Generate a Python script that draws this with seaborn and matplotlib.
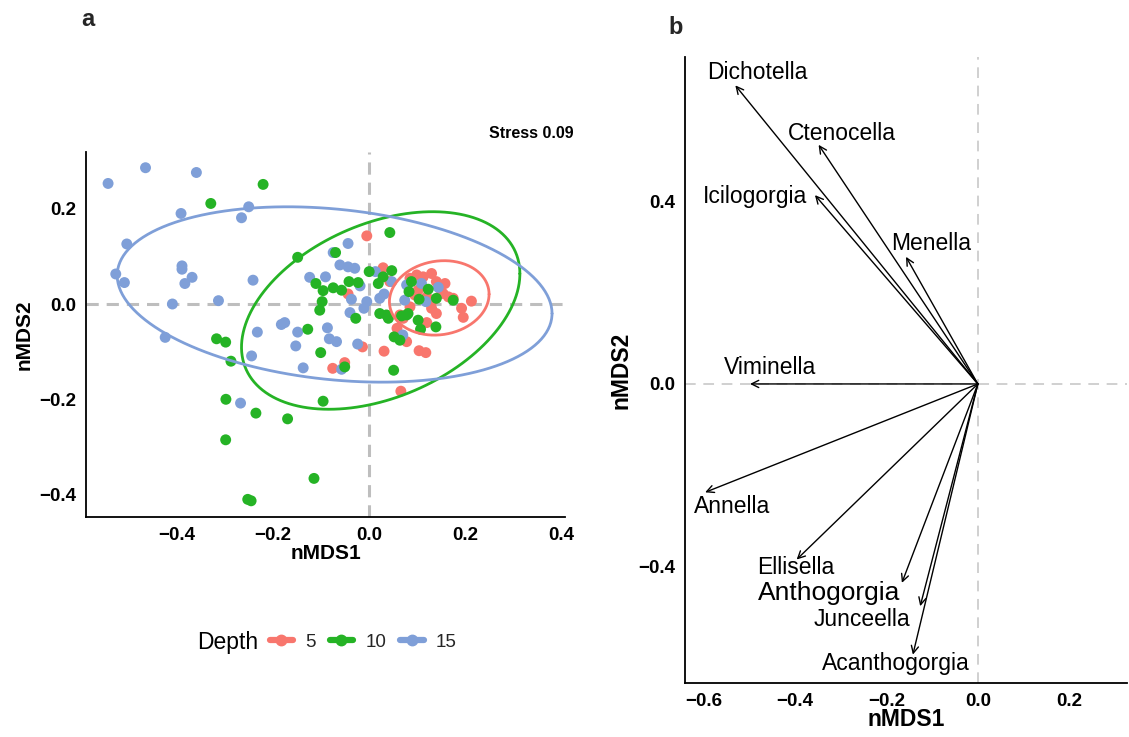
import numpy as np
import pandas as pd
import matplotlib
matplotlib.use("Agg")
import matplotlib.pyplot as plt
from matplotlib.lines import Line2D
import seaborn as sns

# ---------------- data: panel a (nMDS site scores) ----------------
depth_levels = ["5", "10", "15"]

x_d5 = [-0.005, 0.029, -0.044, 0.043, 0.085, 0.099, 0.1125, 0.130, 0.140, 0.147,
        0.154, 0.165, 0.175, 0.213, 0.1925, 0.196, 0.102, 0.120, 0.133, 0.130,
        0.140, 0.085, 0.064, 0.071, 0.120, 0.058, 0.078, -0.014, 0.031, 0.104,
        0.118, -0.051, -0.076, 0.066, 0.158, 0.095]
y_d5 = [0.143, 0.076, 0.021, 0.047, 0.054, 0.061, 0.057, 0.064, 0.047, 0.033,
        0.022, 0.015, 0.012, 0.006, -0.009, -0.028, 0.029, 0.015, 0.008, -0.009,
        -0.020, -0.006, -0.023, -0.030, -0.039, -0.051, -0.079, -0.090, -0.099, -0.098,
        -0.102, -0.123, -0.135, -0.183, 0.043, 0.019]

x_d10 = [-0.221, -0.330, -0.149, -0.070, 0.043, -0.111, -0.096, -0.098, -0.103, -0.075,
         -0.0575, -0.042, -0.028, 0.000, 0.019, 0.029, 0.022, 0.036, -0.318, -0.299,
         -0.288, -0.2985, -0.236, -0.170, -0.299, -0.096, -0.115, -0.253, -0.246, -0.128,
         -0.101, -0.051, 0.047, -0.023, 0.040, 0.0675, 0.078, 0.081, 0.088, 0.083,
         0.104, 0.123, 0.140, 0.175, 0.102, 0.107, 0.139, 0.052, 0.064, 0.051]
y_d10 = [0.251, 0.211, 0.098, 0.108, 0.150, 0.043, 0.028, 0.005, -0.013, 0.034,
         0.029, 0.047, -0.030, 0.068, 0.043, 0.057, -0.020, -0.023, -0.073, -0.080,
         -0.120, -0.200, -0.229, -0.241, -0.285, -0.204, -0.366, -0.410, -0.413, -0.053,
         -0.102, -0.132, 0.070, 0.045, -0.030, -0.025, -0.023, -0.020, 0.047, 0.026,
         0.010, 0.031, 0.012, 0.008, -0.034, -0.053, -0.048, -0.069, -0.076, -0.139]

x_d15 = [-0.544, -0.466, -0.360, -0.392, -0.251, -0.266, -0.505, -0.528, -0.510, -0.390,
         -0.390, -0.384, -0.369, -0.242, -0.410, -0.314, -0.425, -0.233, -0.183, -0.176,
         -0.149, -0.153, -0.245, -0.1375, -0.087, -0.083, -0.068, -0.0575, -0.268, -0.024,
         -0.040, -0.011, -0.044, -0.075, -0.061, -0.044, -0.030, -0.124, -0.091, -0.019,
         0.013, -0.037, -0.005, 0.022, 0.031, 0.047, 0.078, 0.109, 0.118, 0.074,
         0.144, 0.070]
y_d15 = [0.253, 0.286, 0.276, 0.190, 0.204, 0.181, 0.126, 0.063, 0.045, 0.080,
         0.073, 0.043, 0.056, 0.050, 0.000, 0.007, -0.070, -0.059, -0.043, -0.039,
         -0.059, -0.088, -0.109, -0.134, -0.050, -0.073, -0.079, -0.137, -0.208, -0.084,
         -0.018, -0.009, 0.127, 0.108, 0.082, 0.078, 0.075, 0.056, 0.057, 0.038,
         0.068, 0.010, 0.005, 0.012, 0.021, 0.047, 0.040, 0.043, 0.005, 0.008,
         0.035, -0.065]

# 95% ellipses per depth: centre, half-extent in x / y, correlation
ell_cx = [0.146, 0.024, -0.072]
ell_cy = [0.0128, -0.0136, 0.020]
ell_sx = [0.1038, 0.290, 0.453]
ell_sy = [0.0781, 0.2073, 0.184]
ell_rho = [0.10, 0.372, -0.217]

stress_label = "Stress 0.09"

# ---------------- data: panel b (genus vectors) ----------------
genera = ["Dichotella", "Ctenocella", "Icilogorgia", "Menella", "Viminella",
          "Annella", "Ellisella", "Anthogorgia", "Junceella", "Acanthogorgia"]
vec_x = [-0.530, -0.348, -0.356, -0.157, -0.498, -0.596, -0.396, -0.166, -0.126, -0.142]
vec_y = [0.653, 0.523, 0.413, 0.278, 0.000, -0.237, -0.384, -0.435, -0.486, -0.592]
lab_x = [-0.482, -0.297, -0.488, -0.102, -0.454, -0.537, -0.399, -0.325, -0.253, -0.179]
lab_y = [0.681, 0.548, 0.410, 0.308, 0.035, -0.269, -0.401, -0.458, -0.515, -0.611]

# ---------------- styling ----------------
colors = {"5": "#F8766D", "10": "#25B325", "15": "#7F9FD8"}
sns.set_theme(style="white")
plt.rcParams["font.family"] = ["Liberation Sans", "DejaVu Sans"]
plt.rcParams["axes.unicode_minus"] = True

fig = plt.figure(figsize=(11.29, 7.37), dpi=100)
W, H = 1129, 737

def fig_axes(l, r, t, b):
    return fig.add_axes([l / W, 1 - b / H, (r - l) / W, (b - t) / H])

def style_axis(ax, size):
    for s in ["top", "right"]:
        ax.spines[s].set_visible(False)
    for s in ["left", "bottom"]:
        ax.spines[s].set_color("black")
        ax.spines[s].set_linewidth(1.3)
    ax.tick_params(axis="both", length=4, width=3, color="#333333",
                   labelsize=size, pad=3, labelcolor="black")
    for lab in ax.get_xticklabels() + ax.get_yticklabels():
        lab.set_fontweight("bold")
    ax.grid(False)

def fmt(v):
    return ("\u2212" if v < 0 else "") + f"{abs(v):.1f}"

# ---------------- panel a ----------------
axa = fig_axes(86, 565, 152, 517)
df = pd.concat([
    pd.DataFrame({"nMDS1": x_d5, "nMDS2": y_d5, "Depth": "5"}),
    pd.DataFrame({"nMDS1": x_d15, "nMDS2": y_d15, "Depth": "15"}),
    pd.DataFrame({"nMDS1": x_d10, "nMDS2": y_d10, "Depth": "10"}),
], ignore_index=True)

axa.axhline(0, color="#BEBEBE", lw=2.2, ls=(0, (4, 2.6)), zorder=1)
axa.axvline(0, color="#BEBEBE", lw=2.2, ls=(0, (4, 2.6)), zorder=1)
sns.scatterplot(data=df, x="nMDS1", y="nMDS2", hue="Depth", hue_order=depth_levels,
                palette=colors, s=62, linewidth=0, alpha=1, legend=False, ax=axa, zorder=3)

t = np.linspace(0, 2 * np.pi, 300)
for i, lev in enumerate(depth_levels):
    ex = ell_cx[i] + ell_sx[i] * np.cos(t)
    ey = ell_cy[i] + ell_sy[i] * (ell_rho[i] * np.cos(t) + np.sqrt(1 - ell_rho[i] ** 2) * np.sin(t))
    axa.plot(ex, ey, color=colors[lev], lw=2.0, zorder=4)

axa.set_xlim(-0.590, 0.408)
axa.set_ylim(-0.447, 0.319)
xt_a = [-0.4, -0.2, 0.0, 0.2, 0.4]
yt_a = [-0.4, -0.2, 0.0, 0.2]
axa.set_xticks(xt_a)
axa.set_xticklabels([fmt(v) for v in xt_a])
axa.set_yticks(yt_a)
axa.set_yticklabels([fmt(v) for v in yt_a])
axa.set_xlabel("nMDS1", fontsize=15, fontweight="bold", labelpad=0, color="black")
axa.set_ylabel("nMDS2", fontsize=15, fontweight="bold", labelpad=4, color="black")
style_axis(axa, 13.5)
axa.text(574 / W, 1 - 133 / H, stress_label, ha="right", va="center", fontsize=11.5,
         fontweight="bold", transform=fig.transFigure, color="black")

# ---------------- panel b ----------------
axb = fig_axes(685, 1127, 57, 683)
axb.axhline(0, color="#C4C4C4", lw=1.1, ls=(0, (7, 5)), zorder=1)
axb.axvline(0, color="#C4C4C4", lw=1.1, ls=(0, (7, 5)), zorder=1)
for g, vx, vy, lx, ly in zip(genera, vec_x, vec_y, lab_x, lab_y):
    axb.annotate("", xy=(vx, vy), xytext=(0, 0),
                 arrowprops=dict(arrowstyle="->", color="black", lw=1.0,
                                 shrinkA=0, shrinkB=0, mutation_scale=13))
    fs = 19 if g == "Anthogorgia" else 16.5
    axb.text(lx, ly, g, ha="center", va="center", fontsize=fs, color="black")

axb.set_xlim(-0.640, 0.326)
axb.set_ylim(-0.654, 0.715)
xt_b = [-0.6, -0.4, -0.2, 0.0, 0.2]
yt_b = [-0.4, 0.0, 0.4]
axb.set_xticks(xt_b)
axb.set_xticklabels([fmt(v) for v in xt_b])
axb.set_yticks(yt_b)
axb.set_yticklabels([fmt(v) for v in yt_b])
axb.set_xlabel("nMDS1", fontsize=16.5, fontweight="bold", labelpad=-1, color="black")
axb.set_ylabel("nMDS2", fontsize=16.5, fontweight="bold", labelpad=4, color="black")
style_axis(axb, 13.5)

# ---------------- panel tags and legend ----------------
fig.text(88 / W, 1 - 20 / H, "a", fontsize=17, fontweight="bold", ha="center", va="center")
fig.text(676 / W, 1 - 27 / H, "b", fontsize=17, fontweight="bold", ha="center", va="center")

fig.text(197 / W, 1 - 642 / H, "Depth", fontsize=16.5, ha="left", va="center", color="black")
handles = [Line2D([0], [0], color=colors[lev], lw=4.5, marker="o", markersize=7.5)
           for lev in depth_levels]
fig.legend(handles, depth_levels, loc="center left",
           bbox_to_anchor=(262 / W, 1 - 642 / H), ncol=3, frameon=False,
           fontsize=13.5, handlelength=1.25, handletextpad=0.65, columnspacing=0.75,
           borderaxespad=0, borderpad=0.4)

fig.savefig("out.png", dpi=100)
